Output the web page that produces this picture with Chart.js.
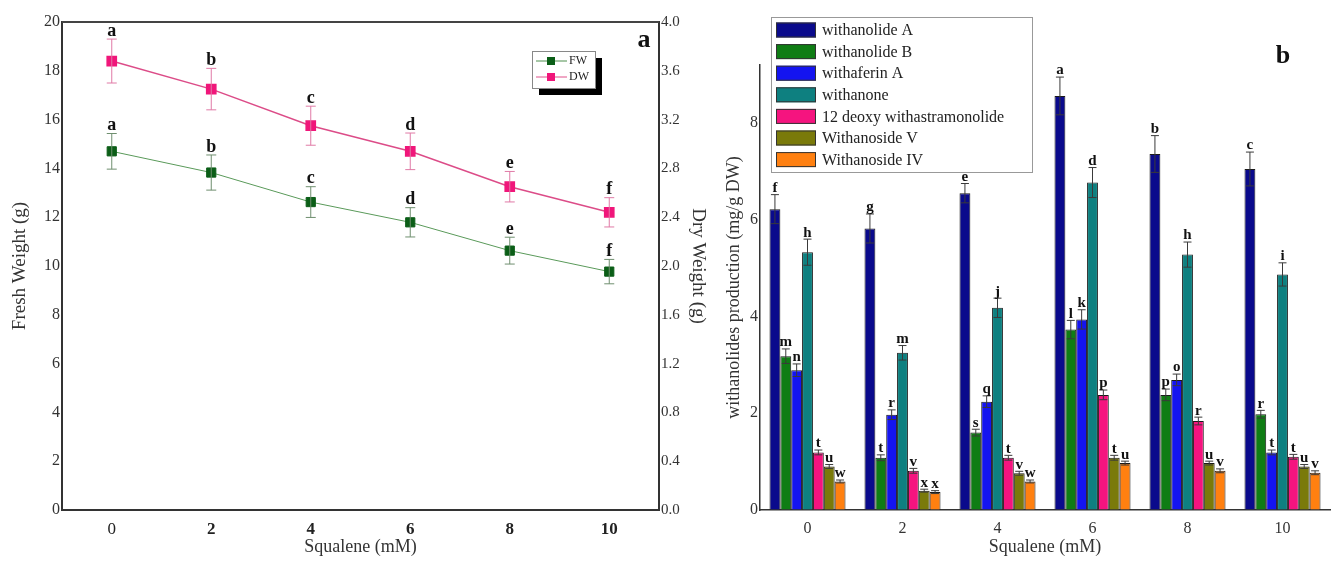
<!DOCTYPE html>
<html>
<head>
<meta charset="utf-8">
<script src="https://cdn.jsdelivr.net/npm/chart.js@4"></script>
<style>
  body { margin: 0; background: #fff; width: 1331px; height: 564px; overflow: hidden; position: relative; }
  #boxA { position: absolute; left: 0; top: 0; width: 715px; height: 564px; }
  #boxB { position: absolute; left: 715px; top: 0; width: 616px; height: 564px; }
</style>
</head>
<body>
<div id="boxA"><canvas id="weightChart"></canvas></div>
<div id="boxB"><canvas id="withaChart"></canvas></div>
<script>
// ---- panel a data ----
const concentrations = [0, 2, 4, 6, 8, 10];
const freshWeight = [14.7, 13.83, 12.62, 11.79, 10.63, 9.77];
const freshErr = [0.73, 0.72, 0.63, 0.6, 0.55, 0.5];
const dryWeight = [3.68, 3.45, 3.15, 2.94, 2.65, 2.44];
const dryErr = [0.18, 0.17, 0.16, 0.15, 0.125, 0.12];
const weightLetters = ['a', 'b', 'c', 'd', 'e', 'f'];
const weightTicksLeft = [0, 2, 4, 6, 8, 10, 12, 14, 16, 18, 20];
const weightTicksRight = [0, 0.4, 0.8, 1.2, 1.6, 2.0, 2.4, 2.8, 3.2, 3.6, 4.0];

// ---- panel b data ----
const squaleneLabels = ['0', '2', '4', '6', '8', '10'];
const withanolideA = [6.22, 5.82, 6.55, 8.56, 7.36, 7.05];
const withanolideB = [3.18, 1.08, 1.6, 3.73, 2.38, 1.98];
const withaferinA = [2.89, 1.97, 2.24, 3.94, 2.69, 1.19];
const withanone = [5.33, 3.25, 4.18, 6.77, 5.28, 4.87];
const deoxyWithastramonolide = [1.19, 0.81, 1.08, 2.38, 1.84, 1.1];
const withanosideV = [0.9, 0.4, 0.76, 1.08, 0.97, 0.9];
const withanosideIV = [0.59, 0.37, 0.59, 0.97, 0.81, 0.77];

const errA = [0.3, 0.3, 0.2, 0.39, 0.38, 0.35];
const errB = [0.15, 0.06, 0.07, 0.19, 0.12, 0.08];
const errWithaferin = [0.13, 0.1, 0.12, 0.2, 0.12, 0.05];
const errWithanone = [0.27, 0.15, 0.2, 0.31, 0.26, 0.24];
const errDeoxy = [0.05, 0.05, 0.05, 0.1, 0.08, 0.05];
const errV = [0.04, 0.03, 0.04, 0.05, 0.04, 0.04];
const errIV = [0.03, 0.03, 0.03, 0.04, 0.04, 0.04];

const lettersA = ['f', 'g', 'e', 'a', 'b', 'c'];
const lettersB = ['m', 't', 's', 'l', 'p', 'r'];
const lettersWithaferin = ['n', 'r', 'q', 'k', 'o', 't'];
const lettersWithanone = ['h', 'm', 'j', 'd', 'h', 'i'];
const lettersDeoxy = ['t', 'v', 't', 'p', 'r', 't'];
const lettersV = ['u', 'x', 'v', 't', 'u', 'u'];
const lettersIV = ['w', 'x', 'w', 'u', 'v', 'v'];
const withaTicks = [0, 2, 4, 6, 8];

const serif = '"Liberation Serif", "DejaVu Serif", serif';

// Error bars + significance letters, drawn from the library's own elements/scales
const errorBars = {
  id: 'errorBars',
  afterDatasetsDraw(chart) {
    const ctx = chart.ctx;
    chart.data.datasets.forEach((ds, i) => {
      if (!ds.errors) return;
      const meta = chart.getDatasetMeta(i);
      const yScale = chart.scales[meta.yAxisID];
      meta.data.forEach((el, j) => {
        const d = ds.data[j];
        const v = typeof d === 'object' ? d.y : d;
        const e = ds.errors[j];
        const yTop = yScale.getPixelForValue(v + e);
        const yBot = yScale.getPixelForValue(v - e);
        const cap = ds.capWidth / 2;
        ctx.save();
        ctx.strokeStyle = ds.errColor;
        ctx.lineWidth = 1;
        ctx.beginPath();
        ctx.moveTo(el.x, yTop); ctx.lineTo(el.x, yBot);
        ctx.moveTo(el.x - cap, yTop); ctx.lineTo(el.x + cap, yTop);
        ctx.moveTo(el.x - cap, yBot); ctx.lineTo(el.x + cap, yBot);
        ctx.stroke();
        if (ds.letters) {
          ctx.fillStyle = '#111';
          ctx.font = ds.letterFont;
          ctx.textAlign = 'center';
          ctx.textBaseline = 'bottom';
          ctx.fillText(ds.letters[j], el.x, yTop + 1);
        }
        ctx.restore();
      });
    });
  }
};

// panel a: frame top line, legend with shadow, panel letter
const weightDecor = {
  id: 'weightDecor',
  afterDraw(chart) {
    const ctx = chart.ctx;
    const a = chart.chartArea;
    ctx.save();
    ctx.strokeStyle = '#444';
    ctx.lineWidth = 2;
    ctx.beginPath();
    ctx.moveTo(a.left, a.top); ctx.lineTo(a.right, a.top);
    ctx.stroke();

    // legend
    ctx.fillStyle = '#000';
    ctx.fillRect(539, 58, 63, 37);
    ctx.fillStyle = '#fff';
    ctx.fillRect(532, 51, 63, 37);
    ctx.strokeStyle = '#888';
    ctx.lineWidth = 1;
    ctx.strokeRect(532.5, 51.5, 63, 37);
    const rows = [
      { y: 61, line: '#4f8f4f', mark: '#0b5e17', text: 'FW' },
      { y: 77, line: '#e0508a', mark: '#f0167a', text: 'DW' }
    ];
    rows.forEach(r => {
      ctx.strokeStyle = r.line;
      ctx.beginPath();
      ctx.moveTo(536, r.y); ctx.lineTo(567, r.y);
      ctx.stroke();
      ctx.fillStyle = r.mark;
      ctx.fillRect(547, r.y - 4, 8, 8);
      ctx.fillStyle = '#222';
      ctx.font = '12px ' + serif;
      ctx.textAlign = 'left';
      ctx.textBaseline = 'middle';
      ctx.fillText(r.text, 569, r.y);
    });

    ctx.fillStyle = '#111';
    ctx.font = 'bold 26px ' + serif;
    ctx.textAlign = 'center';
    ctx.textBaseline = 'middle';
    ctx.fillText('a', 644, 40);
    ctx.restore();
  }
};

new Chart(document.getElementById('weightChart'), {
  type: 'line',
  data: {
    datasets: [
      {
        label: 'FW',
        data: concentrations.map((c, i) => ({ x: c, y: freshWeight[i] })),
        yAxisID: 'y',
        borderColor: '#5a9a5a',
        borderWidth: 1,
        pointStyle: 'rect',
        pointRadius: 6.5,
        pointBackgroundColor: '#0b5e17',
        pointBorderColor: '#0b5e17',
        errors: freshErr,
        errColor: '#6f8f6f',
        capWidth: 10,
        letters: weightLetters,
        letterFont: 'bold 18px ' + serif
      },
      {
        label: 'DW',
        data: concentrations.map((c, i) => ({ x: c, y: dryWeight[i] })),
        yAxisID: 'y2',
        borderColor: '#dc4c88',
        borderWidth: 1.5,
        pointStyle: 'rect',
        pointRadius: 6.5,
        pointBackgroundColor: '#f0167a',
        pointBorderColor: '#f0167a',
        errors: dryErr,
        errColor: '#e07aa6',
        capWidth: 10,
        letters: weightLetters,
        letterFont: 'bold 18px ' + serif
      }
    ]
  },
  options: {
    responsive: true,
    maintainAspectRatio: false,
    animation: false,
    layout: { padding: { top: 22, left: 0, right: 0, bottom: 0 } },
    plugins: { legend: { display: false }, tooltip: { enabled: false } },
    scales: {
      x: {
        type: 'linear',
        min: -1,
        max: 11,
        afterBuildTicks: s => { s.ticks = concentrations.map(v => ({ value: v })); },
        afterFit: s => { s.height = 54; },
        grid: { display: true, drawOnChartArea: false, drawTicks: false },
        border: { display: true, color: '#333', width: 2 },
        ticks: {
          padding: 9,
          color: '#222',
          font: c => ({ family: serif, size: 17, weight: c.tick && c.tick.value === 0 ? 'normal' : 'bold' })
        },
        title: { display: true, text: 'Squalene (mM)', color: '#333', font: { family: serif, size: 18 }, padding: { top: 0, bottom: 6 } }
      },
      y: {
        position: 'left',
        min: 0,
        max: 20,
        afterBuildTicks: s => { s.ticks = weightTicksLeft.map(v => ({ value: v })); },
        afterFit: s => { s.width = 62; },
        grid: { display: true, drawOnChartArea: false, drawTicks: false },
        border: { display: true, color: '#333', width: 2 },
        ticks: { padding: 2, color: '#333', font: { family: serif, size: 16 } },
        title: { display: true, text: 'Fresh Weight (g)', color: '#333', font: { family: serif, size: 19 }, padding: { top: 9, bottom: 0 } }
      },
      y2: {
        position: 'right',
        min: 0,
        max: 4,
        afterBuildTicks: s => { s.ticks = weightTicksRight.map(v => ({ value: v })); },
        afterFit: s => { s.width = 56; },
        grid: { display: true, drawOnChartArea: false, drawTicks: false },
        border: { display: true, color: '#333', width: 2 },
        ticks: { padding: 2, color: '#333', font: { family: serif, size: 15 }, callback: v => v.toFixed(1) },
        title: { display: true, text: 'Dry Weight (g)', color: '#333', font: { family: serif, size: 19 }, padding: { top: 6, bottom: 0 } }
      }
    }
  },
  plugins: [errorBars, weightDecor]
});

// panel b
const seriesNames = ['withanolide A', 'withanolide B', 'withaferin A', 'withanone',
  '12 deoxy withastramonolide', 'Withanoside V', 'Withanoside IV'];
const seriesColors = ['#0a0a8c', '#0f7d14', '#1414f0', '#0e8080', '#f5147f', '#7a7a0a', '#ff8010'];
const seriesValues = [withanolideA, withanolideB, withaferinA, withanone, deoxyWithastramonolide, withanosideV, withanosideIV];
const seriesErrors = [errA, errB, errWithaferin, errWithanone, errDeoxy, errV, errIV];
const seriesLetters = [lettersA, lettersB, lettersWithaferin, lettersWithanone, lettersDeoxy, lettersV, lettersIV];

// legend box and panel letter, drawn under the bars/letters
const withaDecor = {
  id: 'withaDecor',
  beforeDatasetsDraw(chart) {
    const ctx = chart.ctx;
    ctx.save();
    ctx.fillStyle = '#fff';
    ctx.fillRect(56, 17, 261, 155);
    ctx.strokeStyle = '#999';
    ctx.lineWidth = 1;
    ctx.strokeRect(56.5, 17.5, 261, 155);
    seriesNames.forEach((name, i) => {
      const cy = 30 + i * 21.6;
      ctx.fillStyle = seriesColors[i];
      ctx.fillRect(61, cy - 7.5, 40, 15);
      ctx.strokeStyle = '#333';
      ctx.strokeRect(61.5, cy - 7, 39, 14);
      ctx.fillStyle = '#222';
      ctx.font = '16px ' + serif;
      ctx.textAlign = 'left';
      ctx.textBaseline = 'middle';
      ctx.fillText(name, 107, cy + 1);
    });
    ctx.fillStyle = '#111';
    ctx.font = 'bold 26px ' + serif;
    ctx.textAlign = 'center';
    ctx.textBaseline = 'middle';
    ctx.fillText('b', 568, 56);
    ctx.restore();
  }
};

new Chart(document.getElementById('withaChart'), {
  type: 'bar',
  data: {
    labels: squaleneLabels,
    datasets: seriesNames.map((name, i) => ({
      label: name,
      data: seriesValues[i],
      backgroundColor: seriesColors[i],
      borderColor: '#1a1a1a',
      borderWidth: 1,
      categoryPercentage: 0.8,
      barPercentage: 1,
      errors: seriesErrors[i],
      errColor: '#3a3a3a',
      capWidth: 8,
      letters: seriesLetters[i],
      letterFont: 'bold 15px ' + serif
    }))
  },
  options: {
    responsive: true,
    maintainAspectRatio: false,
    animation: false,
    layout: { padding: { top: 65, left: 0, right: 1, bottom: 0 } },
    plugins: { legend: { display: false }, tooltip: { enabled: false } },
    scales: {
      x: {
        afterFit: s => { s.height = 54; },
        grid: { display: true, drawOnChartArea: false, drawTicks: false },
        border: { display: true, color: '#333', width: 1.5 },
        ticks: { padding: 9, color: '#333', font: { family: serif, size: 16 } },
        title: { display: true, text: 'Squalene (mM)', color: '#333', font: { family: serif, size: 18 }, padding: { top: 0, bottom: 6 } }
      },
      y: {
        min: 0,
        max: 9.2,
        afterBuildTicks: s => { s.ticks = withaTicks.map(v => ({ value: v })); },
        afterFit: s => { s.width = 45; },
        grid: { display: true, drawOnChartArea: false, drawTicks: false },
        border: { display: true, color: '#333', width: 1.5 },
        ticks: { padding: 2, color: '#333', font: { family: serif, size: 16 } },
        title: { display: true, text: 'withanolides production (mg/g DW)', color: '#333', font: { family: serif, size: 18 }, padding: { top: 8, bottom: 0 } }
      }
    }
  },
  plugins: [errorBars, withaDecor]
});
</script>
</body>
</html>
